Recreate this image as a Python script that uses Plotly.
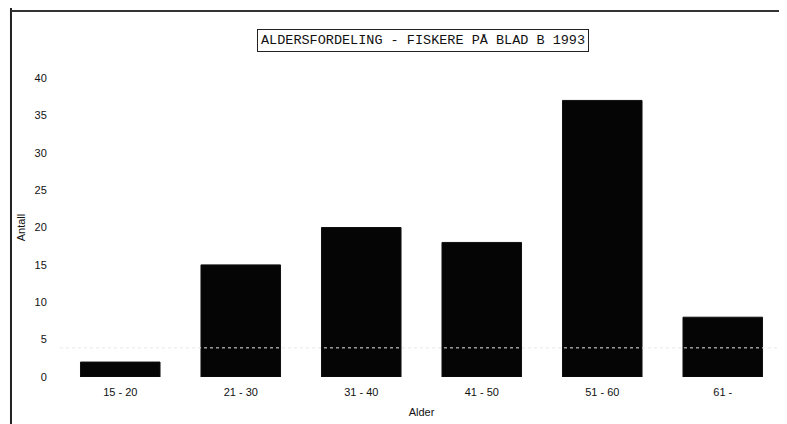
import plotly.graph_objects as go

categories = ["15 - 20", "21 - 30", "31 - 40", "41 - 50", "51 - 60", "61 -"]
antall = [2, 15, 20, 18, 37, 8]
y_ticks = [0, 5, 10, 15, 20, 25, 30, 35, 40]

title_text = "ALDERSFORDELING - FISKERE PÅ BLAD B 1993"

fig = go.Figure()
fig.add_trace(go.Bar(
    x=categories, y=antall,
    marker=dict(color="#050505", line=dict(color="#111111", width=1)),
    width=0.66,
))

fig.update_layout(
    width=787, height=424,
    margin=dict(l=52, r=12, t=70, b=55),
    paper_bgcolor="white", plot_bgcolor="white",
    showlegend=False,
    font=dict(family="Liberation Sans Narrow, Liberation Sans, sans-serif", color="#111111", size=11),
    bargap=0.34,
)
fig.update_xaxes(
    showgrid=False, zeroline=False, showline=False,
    ticks="outside", ticklen=5, tickcolor="white",
    tickfont=dict(size=11),
    title=dict(text="Alder", font=dict(size=11), standoff=11),
)
fig.update_yaxes(
    range=[0, 40], tickvals=y_ticks,
    showgrid=False, zeroline=False, showline=False,
    ticks="outside", ticklen=10, tickcolor="white",
    tickfont=dict(size=11),
    title=dict(text="Antall", font=dict(size=11), standoff=6),
)

# scanned-page frame: left and top lines
fig.add_shape(type="line", xref="paper", yref="paper", x0=-0.0678, x1=-0.0678, y0=-0.25, y1=1.3,
              line=dict(color="#222222", width=2))
fig.add_shape(type="line", xref="paper", yref="paper", x0=-0.0678, x1=1.03, y0=1.224, y1=1.224,
              line=dict(color="#333333", width=2))
# faint dotted line visible across the bars
fig.add_shape(type="line", xref="paper", yref="y", x0=0, x1=1, y0=3.9, y1=3.9,
              line=dict(color="#e8e8e8", width=1, dash="dot"), layer="above")

fig.add_annotation(
    text=title_text, xref="paper", yref="paper", x=0.502, y=1.125,
    showarrow=False, xanchor="center", yanchor="middle",
    font=dict(family="Liberation Mono, DejaVu Sans Mono, monospace", size=13.5, color="#111111"),
    bordercolor="#222222", borderwidth=1, borderpad=3, bgcolor="white",
)

fig.write_html("out.html")
